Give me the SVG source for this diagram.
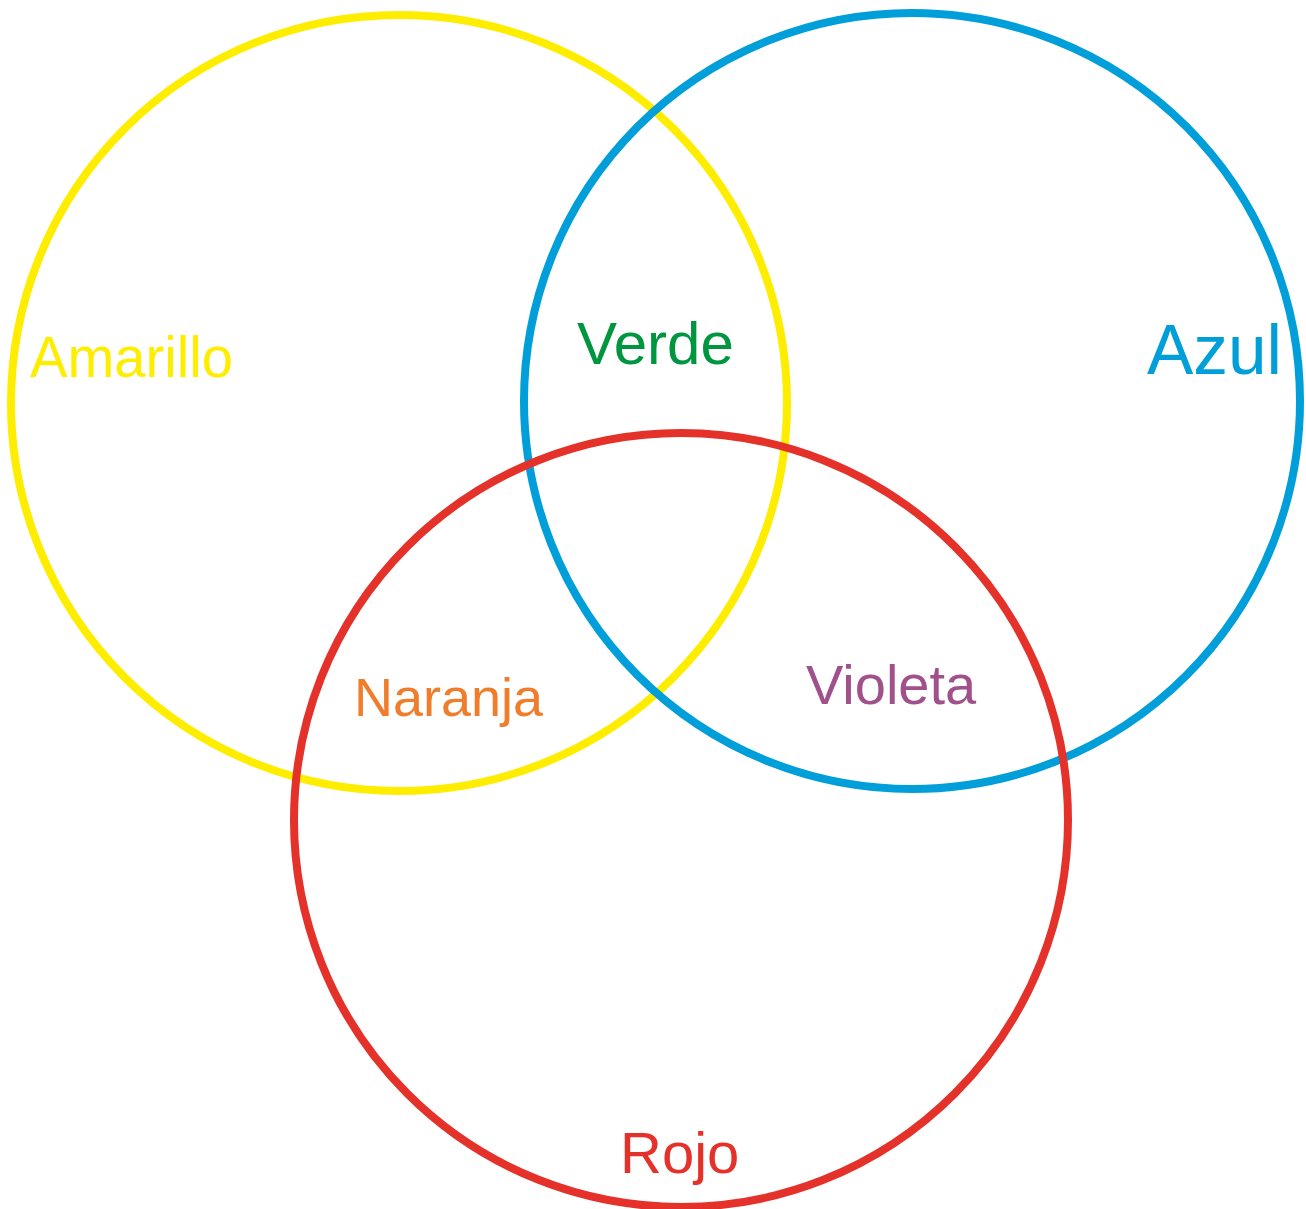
<svg xmlns="http://www.w3.org/2000/svg" width="1306" height="1209" viewBox="0 0 1306 1209">
<style>
.c{fill:none;stroke-width:8}
.t{font-family:"Liberation Sans",Arial,sans-serif}
</style>
<rect width="1306" height="1209" fill="#fff"/>
<g id="amarillo">
<circle class="c" cx="399" cy="403" r="388" stroke="#FFED00"/>
<text class="t" x="30" y="377" font-size="58" fill="#FFED00" textLength="203" lengthAdjust="spacingAndGlyphs">Amarillo</text>
</g>
<g id="azul">
<circle class="c" cx="912" cy="401" r="388" stroke="#009FDA"/>
<text class="t" x="1147" y="374" font-size="71" fill="#009FDA" textLength="135" lengthAdjust="spacingAndGlyphs">Azul</text>
</g>
<g id="rojo">
<circle class="c" cx="681" cy="820" r="387" stroke="#E4322B"/>
<text class="t" x="620" y="1173" font-size="58" fill="#E4322B">Rojo</text>
</g>
<g id="verde">
<text class="t" x="577" y="364" font-size="60" fill="#009640">Verde</text>
</g>
<g id="naranja">
<text class="t" x="354" y="716" font-size="54" fill="#EF7D2C">Naranja</text>
</g>
<g id="violeta">
<text class="t" x="806" y="704" font-size="56" fill="#A0508A">Violeta</text>
</g>
<g id="connectors"/>
</svg>
